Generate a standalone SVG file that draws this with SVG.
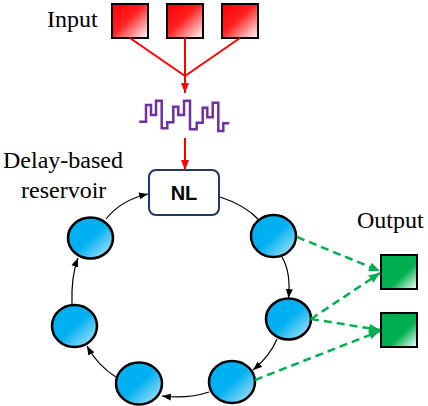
<svg xmlns="http://www.w3.org/2000/svg" width="428" height="406" viewBox="0 0 428 406">
<defs>
<linearGradient id="gRed" x1="0" y1="0" x2="1" y2="1">
<stop offset="0" stop-color="#FF0000"/><stop offset="0.45" stop-color="#FF2020"/><stop offset="1" stop-color="#FFFFFF"/>
</linearGradient>
<linearGradient id="gGreen" x1="0" y1="0" x2="1" y2="1">
<stop offset="0" stop-color="#00B050"/><stop offset="0.6" stop-color="#00B050"/><stop offset="1" stop-color="#FFFFFF"/>
</linearGradient>
<linearGradient id="gBlue" x1="0" y1="0" x2="1" y2="1">
<stop offset="0" stop-color="#00B0F0"/><stop offset="0.5" stop-color="#00B0F0"/><stop offset="1" stop-color="#BFEAFB"/>
</linearGradient>
<marker id="aRed" markerUnits="userSpaceOnUse" markerWidth="10" markerHeight="10" viewBox="0 0 10 10" refX="10" refY="5" orient="auto">
<path d="M0,1 L10,5 L0,9 Z" fill="#FF0000"/>
</marker>
<marker id="aBlack" markerUnits="userSpaceOnUse" markerWidth="9" markerHeight="8" viewBox="0 0 9 8" refX="9" refY="4" orient="auto">
<path d="M0,0.5 L9,4 L0,7.5 Z" fill="#000"/>
</marker>
<marker id="aGreen" markerUnits="userSpaceOnUse" markerWidth="11" markerHeight="10" viewBox="0 0 11 10" refX="11" refY="5" orient="auto">
<path d="M0,0.5 L11,5 L0,9.5 Z" fill="#00B050"/>
</marker>
<style>
.lbl{font-family:"Liberation Serif","Times New Roman",serif;font-size:24px;fill:#000}
.inp{fill:url(#gRed);stroke:#000;stroke-width:2}
.out{fill:url(#gGreen);stroke:#000;stroke-width:2}
.cell{fill:url(#gBlue);stroke:#000;stroke-width:2.5}
.red{stroke:#FF0000;stroke-width:2;fill:none}
.ring{stroke:#000;stroke-width:1.2;fill:none}
.gd{stroke:#00B050;stroke-width:2.5;fill:none;stroke-dasharray:8 5}
</style>
</defs>

<text class="lbl" x="47" y="27">Input</text>
<text class="lbl" x="3" y="168">Delay-based</text>
<text class="lbl" x="21" y="198">reservoir</text>
<text class="lbl" x="357" y="228">Output</text>

<g id="input1"><rect class="inp" x="112" y="4" width="36" height="34"/></g>
<g id="input2"><rect class="inp" x="167" y="4" width="36" height="34"/></g>
<g id="input3"><rect class="inp" x="222" y="4" width="36" height="34"/></g>

<g id="signal">
<polyline fill="none" stroke="#7030A0" stroke-width="2.5" points="139.3,121.7 146,121.7 146,105 151,105 151,115 156,115 156,100.7 161.7,100.7 161.7,128.3 167.3,128.3 167.3,122.3 173.3,122.3 173.3,106.7 178.3,106.7 178.3,115 184,115 184,100.7 190,100.7 190,129.3 196.7,129.3 196.7,122.7 202.7,122.7 202.7,107.7 207.3,107.7 207.3,117.3 212.7,117.3 212.7,102.7 218.3,102.7 218.3,131 223.3,131 223.3,123.3 229.3,123.3"/>
</g>

<g id="NL">
<rect x="149" y="170" width="70" height="45" rx="7" fill="#fff" stroke="#1F3864" stroke-width="2"/>
<text x="184" y="200" text-anchor="middle" font-family="'Liberation Sans',Arial,sans-serif" font-weight="bold" font-size="20">NL</text>
</g>

<g id="n1"><ellipse class="cell" cx="90.5" cy="238" rx="22.5" ry="20.5"/></g>
<g id="n2"><ellipse class="cell" cx="273.5" cy="236" rx="22.5" ry="21"/></g>
<g id="n3"><ellipse class="cell" cx="288.5" cy="319" rx="22.5" ry="20.5"/></g>
<g id="n4"><ellipse class="cell" cx="232" cy="382" rx="23" ry="21"/></g>
<g id="n5"><ellipse class="cell" cx="139" cy="383.5" rx="23" ry="21"/></g>
<g id="n6"><ellipse class="cell" cx="74.5" cy="326" rx="22.5" ry="21"/></g>

<g id="out1"><rect class="out" x="381" y="255" width="36" height="34"/></g>
<g id="out2"><rect class="out" x="381" y="313" width="36" height="34"/></g>

<g id="connectors">
<line class="red" x1="130" y1="38" x2="185" y2="76"/>
<line class="red" x1="185" y1="38" x2="185" y2="76"/>
<line class="red" x1="240" y1="38" x2="185" y2="76"/>
<line class="red" x1="185" y1="76" x2="185" y2="93" marker-end="url(#aRed)"/>
<line class="red" x1="185" y1="138" x2="185" y2="170" marker-end="url(#aRed)"/>

<path class="ring" d="M106,219 Q121,200 148,194" marker-end="url(#aBlack)"/>
<path class="ring" d="M220,197 Q245,205 259,220"/>
<path class="ring" d="M282,257 Q291,272 288.5,298" marker-end="url(#aBlack)"/>
<path class="ring" d="M277,339 Q270,356 253,370" marker-end="url(#aBlack)"/>
<path class="ring" d="M209,392 Q188,399 162,396" marker-end="url(#aBlack)"/>
<path class="ring" d="M116,377 Q98,366 87,346" marker-end="url(#aBlack)"/>
<path class="ring" d="M72,305 Q71,276 78,258" marker-end="url(#aBlack)"/>

<line class="gd" x1="297" y1="237" x2="380" y2="271" marker-end="url(#aGreen)"/>
<line class="gd" x1="311" y1="319" x2="380" y2="273" marker-end="url(#aGreen)"/>
<line class="gd" x1="311" y1="319" x2="380" y2="330" marker-end="url(#aGreen)"/>
<line class="gd" x1="255" y1="380" x2="380" y2="331" marker-end="url(#aGreen)"/>
</g>
</svg>
